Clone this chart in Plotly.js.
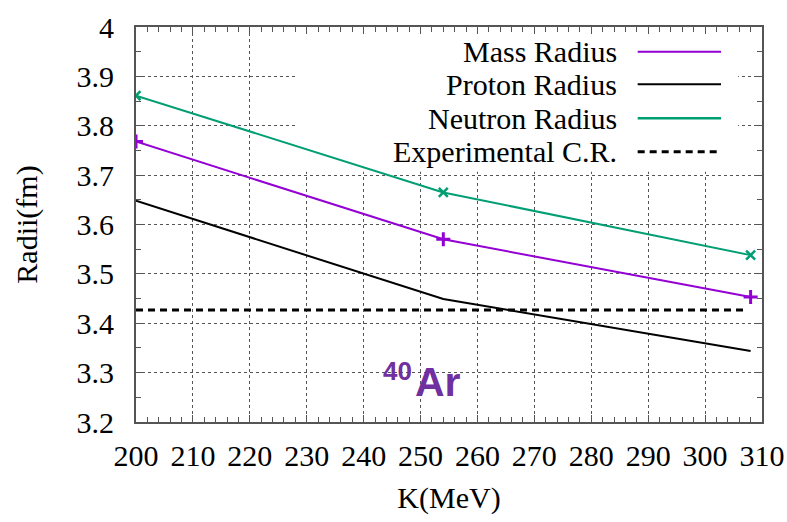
<!DOCTYPE html>
<html>
<head>
<meta charset="utf-8">
<script src="https://cdn.plot.ly/plotly-3.0.1.min.js"></script>
<style>
  html, body { margin: 0; padding: 0; background: #fff; }
  #chart { width: 787px; height: 522px; }
  /* serif face for axis numbers, axis titles and the key */
  #chart .xtick text, #chart .ytick text, #chart .xtitle, #chart .ytitle,
  #chart g.annotation[data-index="0"] text, #chart g.annotation[data-index="1"] text,
  #chart g.annotation[data-index="2"] text, #chart g.annotation[data-index="3"] text {
    font-family: "Liberation Serif", "Times New Roman", serif !important;
  }
</style>
</head>
<body>
<div id="chart"></div>
<script>
// Incompressibility K (MeV) and computed radii (fm) for 40Ar
const kValues = [200, 254, 308];
const massRadius = [3.768, 3.570, 3.453];
const protonRadius = [3.648, 3.449, 3.344];
const neutronRadius = [3.861, 3.665, 3.538];
const expSpan = [200, 307];
const expChargeRadius = [3.427, 3.427];

const seriesNames = ['Mass Radius', 'Proton Radius', 'Neutron Radius', 'Experimental C.R.'];
const seriesColors = ['#9400D3', '#000000', '#009E73', '#000000'];

const serifFont = { family: 'Liberation Serif', size: 30, color: '#000' };

const traces = [
  {
    x: kValues, y: massRadius, name: seriesNames[0], mode: 'lines+markers',
    line: { color: seriesColors[0], width: 2 },
    marker: { symbol: 'cross-thin', size: 10, line: { color: seriesColors[0], width: 3 } }
  },
  {
    x: kValues, y: protonRadius, name: seriesNames[1], mode: 'lines',
    line: { color: seriesColors[1], width: 2 }
  },
  {
    x: kValues, y: neutronRadius, name: seriesNames[2], mode: 'lines+markers',
    line: { color: seriesColors[2], width: 2 },
    marker: { symbol: 'x-thin', size: 9, line: { color: seriesColors[2], width: 2.5 } }
  },
  {
    x: expSpan, y: expChargeRadius, name: seriesNames[3], mode: 'lines',
    line: { color: seriesColors[3], width: 3, dash: '7px,5px' }
  }
];

// Key drawn by hand: text right-aligned with the line sample to its right
const keyRows = [0.9375, 0.855, 0.769, 0.684];
const keyDashes = ['solid', 'solid', 'solid', '7px,5px'];
const keyWidths = [2, 2, 2.5, 3];

const annotations = seriesNames.map((name, i) => ({
  xref: 'paper', yref: 'paper', x: 0.772, y: keyRows[i],
  xanchor: 'right', yanchor: 'middle', showarrow: false,
  text: name, font: serifFont
}));
// nucleus label: mass number raised, element symbol large
const nucleusColor = '#7030A0';
annotations.push({
  xref: 'x', yref: 'y', x: 248.9, y: 3.304,
  xanchor: 'right', yanchor: 'middle', showarrow: false,
  text: '40', font: { family: 'Arial', size: 26, color: nucleusColor, weight: 700 }
});
annotations.push({
  xref: 'x', yref: 'y', x: 248.6, y: 3.281,
  xanchor: 'left', yanchor: 'middle', showarrow: false,
  text: 'Ar', font: { family: 'Arial', size: 41, color: nucleusColor, weight: 700 }
});

const shapes = [
  // opaque key box hiding the grid beneath it
  { type: 'rect', xref: 'x', yref: 'y', x0: 228, x1: 305.8, y0: 3.707, y1: 3.986,
    fillcolor: '#ffffff', line: { width: 0 }, layer: 'between' }
];
seriesNames.forEach((name, i) => {
  shapes.push({
    type: 'line', xref: 'paper', yref: 'paper',
    x0: 0.8014, x1: 0.9345, y0: keyRows[i], y1: keyRows[i],
    line: { color: seriesColors[i], width: keyWidths[i], dash: keyDashes[i] }
  });
});

const axisCommon = {
  showline: true, linecolor: '#555', linewidth: 2, mirror: 'ticks',
  ticks: 'inside', ticklen: 7, tickcolor: '#555', tickwidth: 1,
  showgrid: true, gridcolor: '#555', griddash: 'dot', gridwidth: 1,
  zeroline: false,
  tickfont: serifFont
};

const layout = {
  width: 787, height: 522,
  margin: { l: 136, r: 25, t: 27, b: 100 },
  font: serifFont,
  paper_bgcolor: '#fff', plot_bgcolor: '#fff',
  showlegend: false,
  xaxis: Object.assign({}, axisCommon, {
    range: [200, 310], dtick: 10, tick0: 200,
    ticklabelstandoff: 6,
    minor: { dtick: 2, ticks: 'inside', ticklen: 5, tickcolor: '#555', showgrid: false },
    title: { text: 'K(MeV)', font: serifFont, standoff: 16 }
  }),
  yaxis: Object.assign({}, axisCommon, {
    range: [3.2, 4.0], dtick: 0.1, tick0: 3.2,
    ticklabelstandoff: 14,
    minor: { dtick: 0.05, ticks: 'inside', ticklen: 5, tickcolor: '#555', showgrid: false },
    title: { text: 'Radii(fm)', font: serifFont, standoff: 30 }
  }),
  annotations: annotations,
  shapes: shapes
};

Plotly.newPlot('chart', traces, layout, { staticPlot: true, displayModeBar: false });
</script>
</body>
</html>
